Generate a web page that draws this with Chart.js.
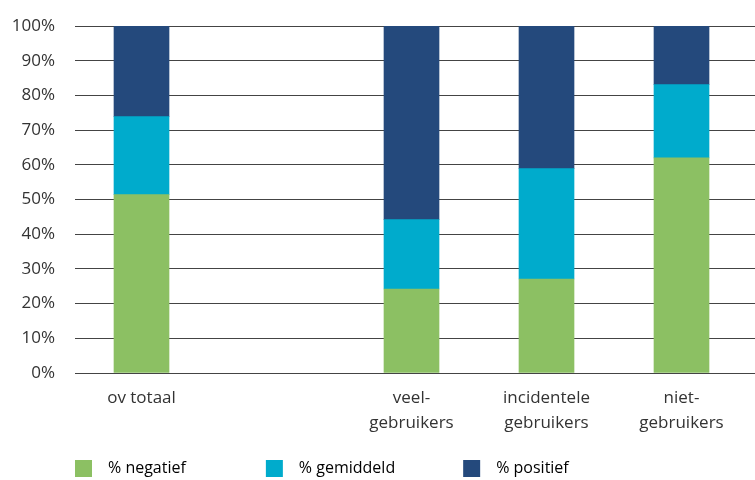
<!DOCTYPE html>
<html>
<head>
<meta charset="utf-8">
<script src="https://cdn.jsdelivr.net/npm/chart.js@4/dist/chart.umd.min.js"></script>
<style>
  html, body { margin: 0; padding: 0; background: #fff; overflow: hidden; }
  #wrap { position: relative; width: 755px; height: 487px; }
</style>
</head>
<body>
<div id="wrap"><canvas id="myChart"></canvas></div>
<script>
// categorieen (positie 1 blijft leeg in het origineel)
const categories = [['ov totaal'], ['veel-', 'gebruikers'], ['incidentele', 'gebruikers'], ['niet-', 'gebruikers']];
const positions = [0, 2, 3, 4];

// percentages per groep
const negatief = [51.4, 24.2, 27.1, 62.0];
const gemiddeld = [22.5, 20.0, 31.8, 21.1];
const positief = [26.1, 55.8, 41.1, 16.9];

const seriesNames = ['% negatief', '% gemiddeld', '% positief'];
const yTicks = [0, 10, 20, 30, 40, 50, 60, 70, 80, 90, 100];

const colors = ['#8cc063', '#00abcc', '#24497c'];
const FONT = "'Open Sans', 'DejaVu Sans', sans-serif";

function toPoints(values) {
    return values.map(function (v, i) {
        return { x: positions[i], y: v };
    });
}

const data = {
    datasets: [negatief, gemiddeld, positief].map(function (values, i) {
        return {
            label: seriesNames[i],
            data: toPoints(values),
            backgroundColor: colors[i],
            borderWidth: 0,
            barThickness: 55
        };
    })
};

const options = {
    responsive: true,
    maintainAspectRatio: false,
    animation: false,
    layout: { padding: { top: 26, left: 0, right: 0, bottom: 0 } },
    plugins: {
        tooltip: { enabled: false },
        legend: {
            position: 'bottom',
            align: 'start',
            fullSize: false,
            labels: {
                boxWidth: 17,
                boxHeight: 17,
                padding: 0,
                color: '#333',
                font: { family: FONT, size: 16 },
                generateLabels: function (chart) {
                    // extra spaties voor de ruime tussenafstand van de legenda
                    const pads = ['\u2003\u2003\u2003\u2003\u2003', '\u2003\u2003\u2003\u2003\u2005', ''];
                    return chart.data.datasets.map(function (ds, i) {
                        return {
                            text: '\u2002' + ds.label + pads[i],
                            fillStyle: ds.backgroundColor,
                            strokeStyle: ds.backgroundColor,
                            lineWidth: 0,
                            datasetIndex: i
                        };
                    });
                }
            }
        }
    },
    scales: {
        x: {
            type: 'linear',
            stacked: true,
            offset: false,
            bounds: 'data',
            min: -0.4926,
            max: 4.5444,
            grid: { display: false },
            border: { display: false },
            afterBuildTicks: function (scale) {
                scale.ticks = positions.map(function (p) { return { value: p }; });
            },
            afterFit: function (scale) { scale.height = 87; },
            ticks: {
                autoSkip: false,
                maxRotation: 0,
                padding: 4,
                color: '#333',
                font: { family: FONT, size: 17, lineHeight: 1.5 },
                callback: function (value) {
                    const i = positions.indexOf(value);
                    return i >= 0 ? categories[i] : '';
                }
            }
        },
        y: {
            stacked: true,
            min: 0,
            max: 100,
            afterFit: function (scale) {
                scale.width = 75;
                scale.paddingTop = 4;
            },
            afterBuildTicks: function (scale) {
                scale.ticks = yTicks.map(function (v) { return { value: v }; });
            },
            grid: { color: '#444', lineWidth: 1, drawTicks: false },
            border: { display: false },
            ticks: {
                padding: 20,
                color: '#333',
                font: { family: FONT, size: 17 },
                callback: function (value) { return value + '%'; }
            }
        }
    }
};

new Chart(document.getElementById('myChart').getContext('2d'), {
    type: 'bar',
    data: data,
    options: options
});
</script>
</body>
</html>
